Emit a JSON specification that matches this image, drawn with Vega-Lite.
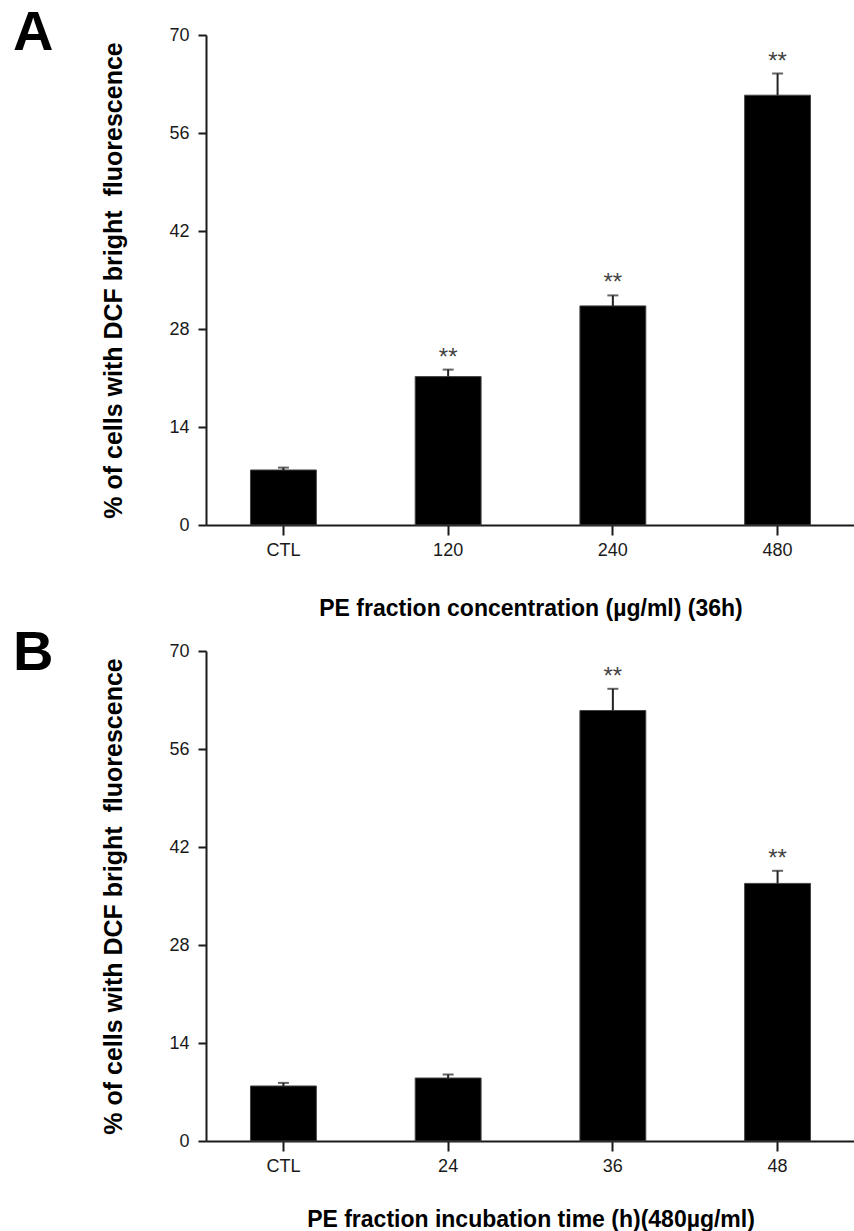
{
  "$schema": "https://vega.github.io/schema/vega-lite/v6.json",
  "padding": {"left": 13, "top": 5, "right": 0, "bottom": 0},
  "spacing": 4,
  "config": {
    "font": "Liberation Sans",
    "view": {"stroke": null},
    "axis": {
      "domainColor": "#1a1a1a", "domainWidth": 2,
      "tickColor": "#1a1a1a", "tickWidth": 2,
      "labelColor": "#1a1a1a", "labelFontSize": 18, "labelFont": "Liberation Sans",
      "titleColor": "#000000", "titleFont": "Liberation Sans", "titleFontWeight": "bold",
      "grid": false, "labelFlush": false
    },
    "title": {"color": "#000000", "font": "Liberation Sans"}
  },
  "vconcat": [
    {
      "title": {"text": "A", "orient": "left", "angle": 0, "fontSize": 56, "fontWeight": "bold", "anchor": "end", "frame": "group", "align": "right", "baseline": "alphabetic", "offset": 8, "dy": 15},
      "width": 649,
      "height": 490,
      "data": {"values": [
        {"group": "CTL", "mean": 7.86, "upper": 8.2, "sig": ""},
        {"group": "120", "mean": 21.2, "upper": 22.2, "sig": "**"},
        {"group": "240", "mean": 31.3, "upper": 32.8, "sig": "**"},
        {"group": "480", "mean": 61.4, "upper": 64.5, "sig": "**"}
      ]},
      "encoding": {
        "x": {"field": "group", "type": "nominal", "sort": null,
          "scale": {"paddingInner": 0.6, "paddingOuter": 0.27},
          "axis": {"labelAngle": 0, "tickSize": 10, "labelPadding": 6, "labelFontSize": 18, "title": "PE fraction concentration (µg/ml) (36h)", "titleFontSize": 23, "titlePadding": 38}}
      },
      "layer": [
        {"mark": {"type": "bar", "color": "#000000", "stroke": "#444444", "strokeWidth": 1},
         "encoding": {"y": {"field": "mean", "type": "quantitative", "scale": {"domain": [0, 70]},
           "axis": {"values": [0, 14, 28, 42, 56, 70], "tickSize": 8, "labelPadding": 9, "labelFontSize": 18, "title": "% of cells with DCF bright\u00a0 fluorescence", "titleFontSize": 25, "titlePadding": 42}}}},
        {"mark": {"type": "rule", "color": "#222222", "strokeWidth": 2},
         "encoding": {"y": {"field": "mean", "type": "quantitative"}, "y2": {"field": "upper"}}},
        {"mark": {"type": "tick", "color": "#222222", "size": 11, "thickness": 2},
         "encoding": {"y": {"field": "upper", "type": "quantitative"}}},
        {"mark": {"type": "text", "baseline": "alphabetic", "dy": -5, "fontSize": 24, "color": "#444444"},
         "encoding": {"y": {"field": "upper", "type": "quantitative"}, "text": {"field": "sig"}}}
      ]
    },
    {
      "title": {"text": "B", "orient": "left", "angle": 0, "fontSize": 56, "fontWeight": "bold", "anchor": "end", "frame": "group", "align": "right", "baseline": "alphabetic", "offset": 8, "dy": 18.7},
      "width": 649,
      "height": 490,
      "data": {"values": [
        {"group": "CTL", "mean": 7.86, "upper": 8.3, "sig": ""},
        {"group": "24", "mean": 9.0, "upper": 9.5, "sig": ""},
        {"group": "36", "mean": 61.5, "upper": 64.6, "sig": "**"},
        {"group": "48", "mean": 36.8, "upper": 38.6, "sig": "**"}
      ]},
      "encoding": {
        "x": {"field": "group", "type": "nominal", "sort": null,
          "scale": {"paddingInner": 0.6, "paddingOuter": 0.27},
          "axis": {"labelAngle": 0, "tickSize": 10, "labelPadding": 6, "labelFontSize": 18, "title": "PE fraction incubation time (h)(480µg/ml)", "titleFontSize": 23, "titlePadding": 33}}
      },
      "layer": [
        {"mark": {"type": "bar", "color": "#000000", "stroke": "#444444", "strokeWidth": 1},
         "encoding": {"y": {"field": "mean", "type": "quantitative", "scale": {"domain": [0, 70]},
           "axis": {"values": [0, 14, 28, 42, 56, 70], "tickSize": 8, "labelPadding": 9, "labelFontSize": 18, "title": "% of cells with DCF bright\u00a0 fluorescence", "titleFontSize": 25, "titlePadding": 42}}}},
        {"mark": {"type": "rule", "color": "#222222", "strokeWidth": 2},
         "encoding": {"y": {"field": "mean", "type": "quantitative"}, "y2": {"field": "upper"}}},
        {"mark": {"type": "tick", "color": "#222222", "size": 11, "thickness": 2},
         "encoding": {"y": {"field": "upper", "type": "quantitative"}}},
        {"mark": {"type": "text", "baseline": "alphabetic", "dy": -5, "fontSize": 24, "color": "#444444"},
         "encoding": {"y": {"field": "upper", "type": "quantitative"}, "text": {"field": "sig"}}}
      ]
    }
  ]
}
